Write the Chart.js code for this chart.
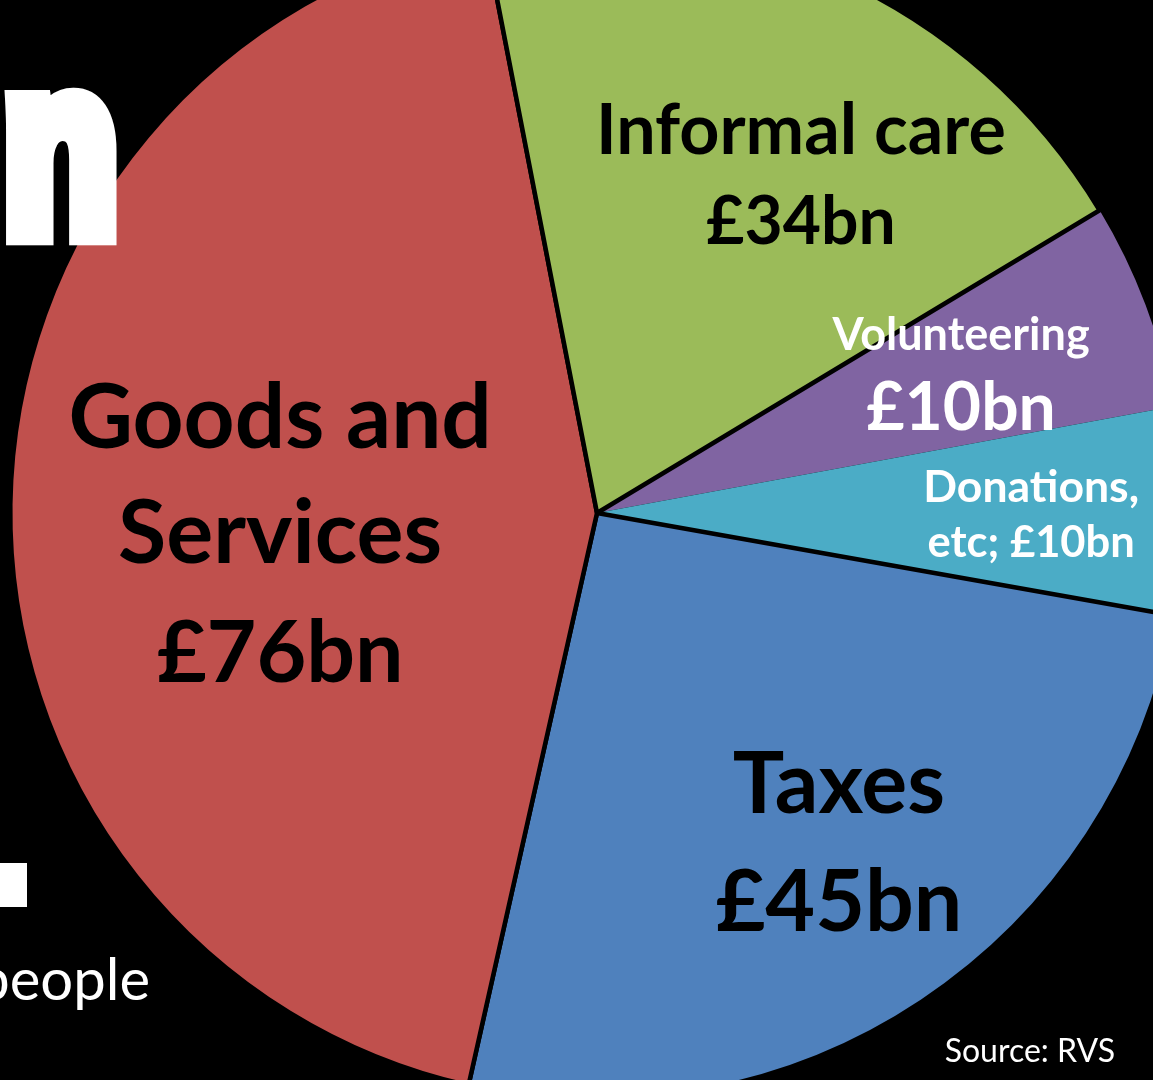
<!DOCTYPE html>
<html lang="en">
<head>
<meta charset="utf-8">
<title>Older people's contribution</title>
<script src="https://cdn.jsdelivr.net/npm/chart.js@4.4.1/dist/chart.umd.min.js"></script>
<style>
  html, body { margin: 0; padding: 0; background: #000; overflow: hidden; }
  body { width: 1153px; height: 1080px; position: relative; }
  #pie { position: absolute; left: 0; top: -76px; }
</style>
</head>
<body>
<canvas id="pie" width="1186" height="1178"></canvas>
<script>
/* ─── Data (£bn) ─────────────────────────────────────────────── */
const categories  = ['Volunteering', 'Donations, etc', 'Taxes', 'Goods and Services', 'Informal care'];
const values      = [10, 10, 45, 76, 34];
const sliceColors = ['#8064A2', '#4BACC6', '#4F81BD', '#C0504D', '#9BBB59'];
const sliceBorder = [0, 0, 4.5, 4.5, 4.5];

const fmtBn = v => `£${v}bn`;

/* ─── Slice labels ───────────────────────────────────────────── */
// r = fraction of radius, t = fraction along the slice's sweep
// each line: [text ('{v}' = value), font size, baseline offset from anchor]
const sliceLabels = [
  { r: 0.665, t: 0.485, color: '#fff', lines: [['Volunteering', 45, -23], ['{v}', 66, 57]] },
  { r: 0.740, t: 0.503, color: '#fff', lines: [['Donations,', 44.5, -10], ['etc; {v}', 43.5, 45]] },
  { r: 0.696, t: 0.471, color: '#000', lines: [['Taxes', 86, -29], ['{v}', 86, 89]] },
  { r: 0.541, t: 0.473, color: '#000', lines: [['Goods and', 89, -84], ['Services', 88, 31], ['{v}', 86, 150]] },
  { r: 0.674, t: 0.601, color: '#000', lines: [['Informal care', 70, -20], ['{v}', 66, 70]] },
];

const sliceLabelPlugin = {
  id: 'sliceLabels',
  afterDatasetsDraw(chart) {
    const { ctx } = chart;
    const arcs = chart.getDatasetMeta(0).data;
    ctx.save();
    ctx.textAlign = 'center';
    ctx.textBaseline = 'alphabetic';
    arcs.forEach((arc, i) => {
      const cfg = sliceLabels[i];
      const { x, y, startAngle, endAngle, outerRadius } = arc.getProps(['x', 'y', 'startAngle', 'endAngle', 'outerRadius'], true);
      const a  = startAngle + cfg.t * (endAngle - startAngle);
      const ax = x + Math.cos(a) * cfg.r * outerRadius;
      const ay = y + Math.sin(a) * cfg.r * outerRadius;
      ctx.fillStyle = cfg.color;
      cfg.lines.forEach(([text, size, dy]) => {
        ctx.font = `bold ${size}px Lato, "Open Sans", sans-serif`;
        ctx.fillText(text.replace('{v}', fmtBn(values[i])), ax, ay + dy);
      });
    });
    ctx.restore();
  },
};

/* ─── Slide furniture around the pie (page coordinates) ──────── */
function fitGlyph(ctx, text, font, stroke, box) {
  ctx.font = font;
  const m = ctx.measureText(text);
  const w = m.actualBoundingBoxLeft + m.actualBoundingBoxRight + stroke;
  const h = m.actualBoundingBoxAscent + m.actualBoundingBoxDescent + stroke;
  const sx = box.w / w, sy = box.h / h;
  ctx.save();
  ctx.translate(box.x, box.y);
  ctx.scale(sx, sy);
  const ox = m.actualBoundingBoxLeft + stroke / 2;
  const oy = m.actualBoundingBoxAscent + stroke / 2;
  ctx.fillStyle = '#fff';
  ctx.strokeStyle = '#fff';
  ctx.lineWidth = stroke;
  ctx.lineJoin = 'miter';
  ctx.fillText(text, ox, oy);
  ctx.strokeText(text, ox, oy);
  ctx.restore();
}

const slidePlugin = {
  id: 'slide',
  afterDraw(chart) {
    const { ctx, canvas } = chart;
    ctx.save();
    ctx.translate(-canvas.offsetLeft, -canvas.offsetTop);

    // tail of the big headline figure
    ctx.textAlign = 'left';
    ctx.textBaseline = 'alphabetic';
    fitGlyph(ctx, 'n', 'bold 250px "Liberation Sans"', 30, { x: 5, y: 87, w: 112, h: 158 });

    ctx.fillStyle = '#fff';
    ctx.fillRect(0, 863, 27, 44);

    ctx.textAlign = 'right';
    ctx.font = '58px Lato, sans-serif';
    ctx.fillText('people', 150, 1000);

    ctx.font = '32px Lato, sans-serif';
    ctx.fillText('Source: RVS', 1115, 1062);
    ctx.restore();
  },
};

/* ─── Chart ──────────────────────────────────────────────────── */
new Chart(document.getElementById('pie'), {
  type: 'pie',
  data: {
    labels: categories,
    datasets: [{
      data: values,
      backgroundColor: sliceColors,
      borderColor: '#000',
      borderWidth: sliceBorder,
      hoverBorderWidth: sliceBorder,
      hoverOffset: 0,
      offset: 0,
    }],
  },
  options: {
    responsive: false,
    animation: false,
    events: [],
    rotation: 58.94,
    layout: { padding: { left: 8, right: 0, top: 0, bottom: 0 } },
    plugins: {
      legend: { display: false },
      tooltip: { enabled: false },
      title: { display: false },
    },
  },
  plugins: [sliceLabelPlugin, slidePlugin],
});
</script>
</body>
</html>
